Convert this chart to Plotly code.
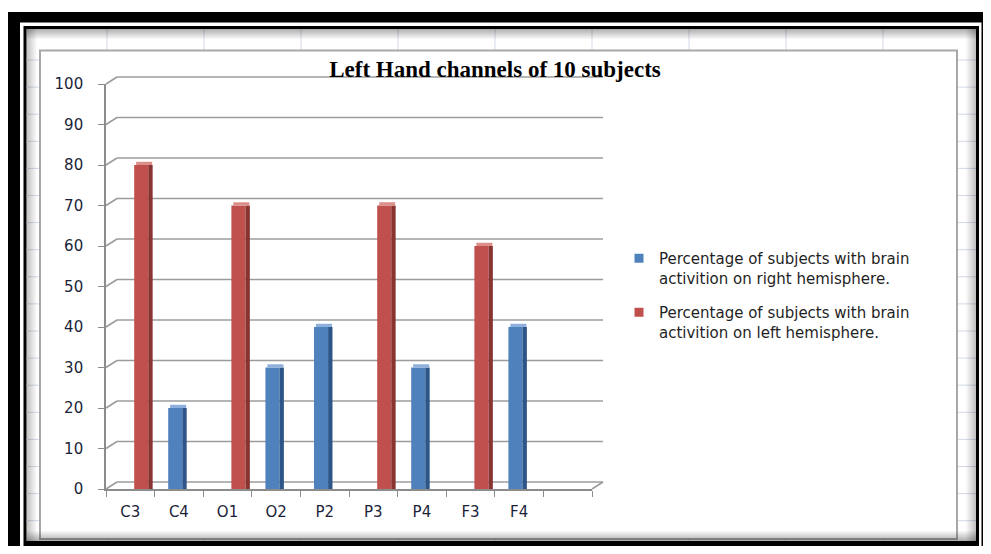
import plotly.graph_objects as go

# --------------------------------------------------------------
# Data
# --------------------------------------------------------------
channels = ["C3", "C4", "O1", "O2", "P2", "P3", "P4", "F3", "F4", " "]
right_pct = [None, 20, None, 30, 40, None, 30, None, 40, None]
left_pct = [80, None, 70, None, None, 70, None, 60, None, None]
y_ticks = [0, 10, 20, 30, 40, 50, 60, 70, 80, 90, 100]

title_text = "Left Hand channels of 10 subjects"
legend_right = "Percentage of subjects with brain<br>activition on right hemisphere."
legend_left = "Percentage of subjects with brain<br>activition on left hemisphere."

BLUE, BLUE_SIDE, BLUE_TOP = "#4f81bd", "#2d5588", "#8fb0dc"
RED, RED_SIDE, RED_TOP = "#c0504d", "#8a3432", "#dc8e8b"
GRID = "#9c9c9c"
SHEET = "#d3dae6"
TICK_FONT = dict(family="DejaVu Sans", size=15, color="#1b1f3a")

# page body keeps its 8px margin, so the figure is drawn 8px in
OX, OY = 8, 8
W, H = 975, 538
Y0_PX, Y100_PX = 489, 84      # where 0 and 100 sit on the value axis


def px(x):
    return (x - OX) / W


def py(y):
    return 1 - (y - OY) / H


def val_px(v):
    return Y0_PX - v * (Y0_PX - Y100_PX) / 100


def cap(vals):
    # thin lighter slab sitting on top of each bar (3-D look)
    return [0.8 if v is not None else None for v in vals]


fig = go.Figure()


def add_column(vals, name, front, side, top, off):
    fig.add_bar(x=channels, y=vals, showlegend=False,
                offset=off, width=0.29, marker=dict(color=front, line_width=0))
    fig.add_bar(x=channels, y=vals, showlegend=False,
                offset=off + 0.29, width=0.09,
                marker=dict(color=side, line_width=0), hoverinfo="skip")
    fig.add_bar(x=channels, y=cap(vals), base=vals, showlegend=False,
                offset=off + 0.04, width=0.33,
                marker=dict(color=top, line_width=0), hoverinfo="skip")
    # small square legend key, like Excel's
    fig.add_scatter(x=[None], y=[None], mode="markers", name=name, legendgroup=name,
                    marker=dict(symbol="square", size=9, color=front))


add_column(right_pct, legend_right, BLUE, BLUE_SIDE, BLUE_TOP, -0.22)
add_column(left_pct, legend_left, RED, RED_SIDE, RED_TOP, 0.08)

# --------------------------------------------------------------
# Frame: screenshot border, spreadsheet cells, chart area
# --------------------------------------------------------------
shapes = []


def rect(x0, y0, x1, y1, fill, line_color=None, lw=0):
    shapes.append(dict(type="rect", xref="paper", yref="paper", layer="below",
                       x0=px(x0), x1=px(x1), y0=py(y0), y1=py(y1),
                       fillcolor=fill, line=dict(color=line_color or fill, width=lw)))


def pline(x0, y0, x1, y1, color, lw=1, opacity=1):
    shapes.append(dict(type="line", xref="paper", yref="paper", layer="below",
                       x0=px(x0), x1=px(x1), y0=py(y0), y1=py(y1), opacity=opacity,
                       line=dict(color=color, width=lw)))


rect(8, 12, 990, 556, "black")
rect(20, 22.5, 981.5, 551, "white")
rect(23.5, 26, 979, 548, "black")
rect(26.5, 29, 976, 541, "white")

# spreadsheet cell lines
for k in range(9):
    x = 107 + 97 * k
    pline(x, 29, x, 541, SHEET, 1)
for k in range(18):
    y = 60 + 27.1 * k
    pline(26.5, y, 976, y, SHEET, 1)

# chart area
rect(40, 50.5, 957, 539, "white", "#a8a8a8", 2)

# inner shadow of the sheet window
for i in range(10):
    a = 0.3 * (1 - i / 10)
    pline(26.5, 29.5 + i, 976, 29.5 + i, "black", 1, a)
    pline(26.5, 540.5 - i, 976, 540.5 - i, "black", 1, a)
    pline(27 + i, 29, 27 + i, 541, "black", 1, a * 0.8)
    pline(975.5 - i, 29, 975.5 - i, 541, "black", 1, a * 0.8)

# back wall gridlines with their 3-D connectors to the value axis
WALL_DX, WALL_DY = 11, 7
for v in y_ticks:
    yv = val_px(v)
    pline(106 + WALL_DX, yv - WALL_DY, 603, yv - WALL_DY, GRID, 1.6)
    pline(106, yv, 106 + WALL_DX, yv - WALL_DY, GRID, 1.6)
pline(592, val_px(0), 603, val_px(0) - WALL_DY, GRID, 1.6)

fig.update_layout(
    width=W, height=H,
    margin=dict(l=0, r=0, t=0, b=0, pad=0, autoexpand=False),
    paper_bgcolor="white",
    plot_bgcolor="rgba(0,0,0,0)",
    barmode="overlay",
    shapes=shapes,
    showlegend=True,
    title=dict(text=title_text, x=px(495), y=py(69), xanchor="center", yanchor="middle",
               font=dict(family="Liberation Serif", size=23, color="black", weight="bold")),
    legend=dict(x=px(619), y=py(242), xanchor="left", yanchor="top",
                bgcolor="rgba(0,0,0,0)", tracegroupgap=12, valign="top",
                font=dict(family="DejaVu Sans", size=15, color="#1f1f1f")),
    xaxis=dict(domain=[px(106), px(592)], type="category", range=[-0.5, 9.5],
               showgrid=False, showline=True, linecolor="#8c8c8c", linewidth=1.6,
               ticks="outside", tickson="boundaries", ticklen=6, tickwidth=1.4,
               tickcolor="#8c8c8c", ticklabelstandoff=8, automargin=False,
               tickfont=TICK_FONT),
    yaxis=dict(domain=[py(Y0_PX), py(Y100_PX)], range=[0, 100], tickvals=y_ticks,
               showgrid=False, zeroline=False, showline=True, linecolor="#8c8c8c",
               linewidth=1.6, ticks="outside", ticklen=6, tickwidth=1.4,
               tickcolor="#8c8c8c", ticklabelstandoff=12, automargin=False,
               tickfont=TICK_FONT),
)

fig.write_html("out.html")
